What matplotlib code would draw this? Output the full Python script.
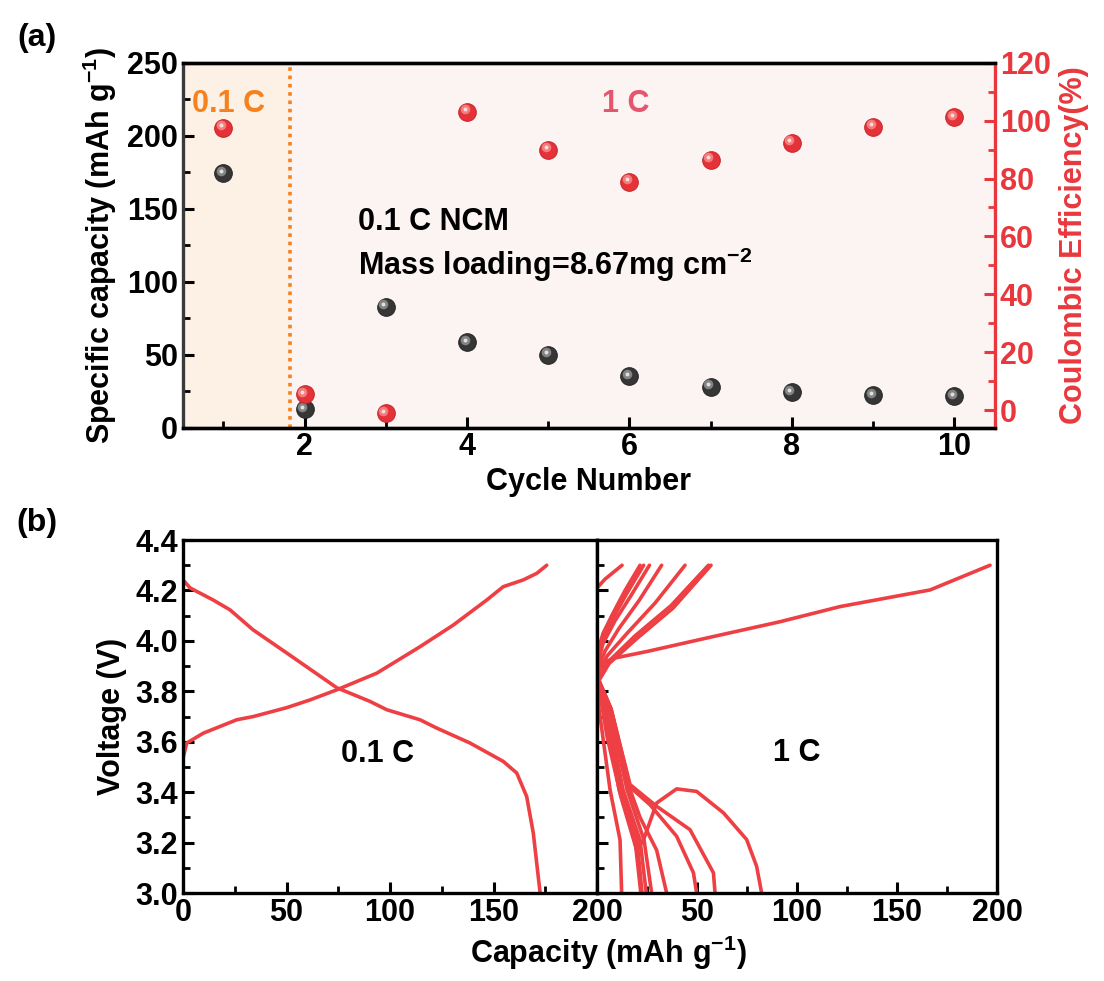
import matplotlib
matplotlib.use("Agg")
import matplotlib.pyplot as plt
from matplotlib.transforms import offset_copy
from matplotlib.ticker import MultipleLocator

plt.rcParams['font.family'] = ['Liberation Sans', 'DejaVu Sans']
plt.rcParams['font.weight'] = 'bold'
plt.rcParams['axes.labelweight'] = 'bold'
plt.rcParams['mathtext.fontset'] = 'custom'
plt.rcParams['mathtext.rm'] = 'Liberation Sans:bold'
plt.rcParams['mathtext.it'] = 'Liberation Sans:bold'
plt.rcParams['mathtext.bf'] = 'Liberation Sans:bold'
plt.rcParams['mathtext.default'] = 'regular'

# ---- (a) cycling data ----
cycles = [1, 2, 3, 4, 5, 6, 7, 8, 9, 10]
capacity = [174.2, 12.5, 82.6, 58.6, 49.7, 35.3, 27.8, 24.3, 22.0, 21.5]
coulombic_eff = [97.5, 5.5, -1.0, 103.1, 90.0, 78.9, 86.5, 92.4, 97.9, 101.2]
rate_switch = 1.82

# ---- (b) voltage profiles, 0.1 C ----
ch01_cap = [0, 1.8, 9.8, 25.9, 34, 50, 61.4, 74.3, 93.6, 114.5, 130.6, 146.7, 154.7, 164.4, 170.9, 175.7]
ch01_v = [3.535, 3.595, 3.634, 3.687, 3.70, 3.735, 3.766, 3.806, 3.872, 3.977, 4.063, 4.162, 4.215, 4.242, 4.268, 4.30]
dis01_cap = [0, 3.4, 14.6, 22.7, 33.8, 50.1, 74.3, 90.3, 98.4, 114.5, 122.6, 138.6, 154.7, 161.2, 166, 169.2, 172.5]
dis01_v = [4.242, 4.21, 4.162, 4.123, 4.044, 3.952, 3.814, 3.76, 3.727, 3.687, 3.654, 3.595, 3.522, 3.476, 3.383, 3.238, 3.0]

# ---- (b) voltage profiles, 1 C ----
charge_1c = [
    ([0, 0.6, 2.5, 8.2, 25, 58, 91.5, 121.5, 166.5, 196.5], [3.84, 3.88, 3.91, 3.931, 3.958, 4.017, 4.076, 4.136, 4.202, 4.30]),
    ([0, 4, 12.5], [4.21, 4.245, 4.30]),
    ([0, 3, 9, 17, 26.2], [3.90, 3.99, 4.08, 4.18, 4.30]),
    ([0, 3, 8, 15, 23.3], [3.92, 4.01, 4.09, 4.19, 4.30]),
    ([0, 3, 8, 14, 21.5], [3.95, 4.03, 4.11, 4.20, 4.30]),
    ([0, 4, 11, 21, 32.3], [3.88, 3.96, 4.05, 4.16, 4.30]),
    ([0, 5, 15, 29, 44], [3.86, 3.94, 4.03, 4.15, 4.30]),
    ([0, 6, 19, 37, 55.7], [3.84, 3.92, 4.02, 4.14, 4.30]),
    ([0, 6, 20, 38, 57], [3.83, 3.91, 4.01, 4.13, 4.30]),
]
discharge_1c = [
    ([0, 1, 6.5, 11.5, 12.3], [3.88, 3.73, 3.41, 3.21, 3.0]),
    ([0, 5, 12, 19.8, 23.2, 29.8, 39.8, 49.8, 63.2, 74.8, 79.8, 82.3],
     [3.86, 3.62, 3.38, 3.17, 3.21, 3.357, 3.413, 3.403, 3.318, 3.212, 3.106, 3.0]),
    ([0, 7, 16.5, 29.8, 46.5, 58.2, 59], [3.86, 3.73, 3.43, 3.344, 3.251, 3.08, 3.0]),
    ([0, 7, 16.5, 26.5, 39.8, 48.2, 49.8], [3.86, 3.73, 3.42, 3.35, 3.225, 3.08, 3.0]),
    ([0, 7, 16.5, 21.5, 29.8, 34.8], [3.86, 3.73, 3.41, 3.30, 3.17, 3.0]),
    ([0, 6, 15, 23.5, 27.3], [3.86, 3.73, 3.41, 3.21, 3.0]),
    ([0, 5, 13, 21.5, 24.6], [3.86, 3.73, 3.41, 3.21, 3.0]),
    ([0, 4.5, 12, 20, 22.5], [3.86, 3.73, 3.41, 3.21, 3.0]),
    ([0, 4, 11, 19, 21.9], [3.86, 3.73, 3.41, 3.21, 3.0]),
]

RED = '#E8383D'
LINE_RED = '#EE4044'
ORANGE = '#F5821F'
FS = 22

fig = plt.figure(figsize=(11.04, 9.81), dpi=100)


def style_ticks(ax, which_sides):
    ax.tick_params(axis='both', which='major', direction='in', length=8, width=2.2, labelsize=FS, **which_sides)
    ax.tick_params(axis='both', which='minor', direction='in', length=5, width=2.0, **which_sides)
    for s in ax.spines.values():
        s.set_linewidth(2.4)


# ---------------- (a) ----------------
ax1 = fig.add_axes([0.1655, 0.5642, 0.7358, 0.3719])
ax1.axvspan(0.5, rate_switch, color='#FDF1E5', zorder=0, lw=0)
ax1.axvspan(rate_switch, 10.5, color='#FCF3F3', zorder=0, lw=0)
ax1.axvline(rate_switch, color=ORANGE, ls=(0, (1, 1.3)), lw=2.6, zorder=1)
ax1.set_xlim(0.5, 10.5)
ax1.set_ylim(0, 250)
ax1.xaxis.set_major_locator(MultipleLocator(2))
ax1.xaxis.set_minor_locator(MultipleLocator(1))
ax1.yaxis.set_major_locator(MultipleLocator(50))
ax1.yaxis.set_minor_locator(MultipleLocator(25))
style_ticks(ax1, dict())
ax1.spines['left'].set_color('#3a3a3a')
ax1.spines['right'].set_visible(False)
ax1.set_xlabel('Cycle Number', fontsize=FS, labelpad=3)
ax1.set_ylabel('Specific capacity (mAh g$^{-1}$)', fontsize=FS, labelpad=6)

ax1r = ax1.twinx()
ax1r.set_ylim(-6, 120)
ax1r.yaxis.set_major_locator(MultipleLocator(20))
ax1r.yaxis.set_minor_locator(MultipleLocator(10))
ax1r.tick_params(axis='y', which='major', direction='in', length=8, width=2.2, labelsize=FS,
                 colors=RED)
ax1r.tick_params(axis='y', which='minor', direction='in', length=5, width=2.0, colors=RED)
for name, s in ax1r.spines.items():
    s.set_linewidth(2.4)
ax1r.spines['right'].set_color(RED)
ax1r.spines['left'].set_visible(False)
ax1r.set_ylabel('Coulombic Efficiency(%)', fontsize=FS, color=RED, labelpad=6)

hl1 = offset_copy(ax1.transData, fig=fig, x=-2.5, y=2.5, units='dots')
hl1r = offset_copy(ax1r.transData, fig=fig, x=-2.5, y=2.5, units='dots')
ax1.scatter(cycles, capacity, s=160, color='#363636', edgecolor='#2a2a2a', lw=0.8, zorder=3, clip_on=False)
ax1.scatter(cycles, capacity, s=48, color='#8c8c8c', lw=0, zorder=4, transform=hl1, alpha=0.9)
ax1.scatter(cycles, capacity, s=8, color='#e0e0e0', lw=0, zorder=5, transform=hl1)
ax1r.scatter(cycles, coulombic_eff, s=160, color='#E53238', edgecolor='#c92a2f', lw=0.8, zorder=3, clip_on=False)
ax1r.scatter(cycles, coulombic_eff, s=48, color='#F58585', lw=0, zorder=4, transform=hl1r, alpha=0.9)
ax1r.scatter(cycles, coulombic_eff, s=8, color='#FDDADA', lw=0, zorder=5, transform=hl1r)

ax1.text(0.62, 222, '0.1 C', color=ORANGE, fontsize=FS, fontweight='bold', va='center', ha='left')
ax1.text(5.95, 222, '1 C', color='#E4566E', fontsize=FS, fontweight='bold', va='center', ha='center')
ax1.text(2.66, 141, '0.1 C NCM', fontsize=FS, fontweight='bold', va='center', ha='left')
ax1.text(2.66, 111.5, 'Mass loading=8.67mg cm$^{-2}$', fontsize=FS, fontweight='bold', va='center', ha='left')

# ---------------- (b) ----------------
ax2 = fig.add_axes([0.1658, 0.0897, 0.3750, 0.3598])
ax3 = fig.add_axes([0.5408, 0.0897, 0.3623, 0.3598])
for ax in (ax2, ax3):
    ax.set_xlim(0, 200)
    ax.set_ylim(3.0, 4.4)
    ax.xaxis.set_major_locator(MultipleLocator(50))
    ax.xaxis.set_minor_locator(MultipleLocator(25))
    ax.yaxis.set_major_locator(MultipleLocator(0.2))
    ax.yaxis.set_minor_locator(MultipleLocator(0.1))
    style_ticks(ax, dict(top=False, right=False))

ax2.yaxis.set_major_formatter(matplotlib.ticker.FormatStrFormatter('%.1f'))
ax3.set_yticklabels([])
ax3.set_xticks([0, 50, 100, 150, 200])
ax3.set_xticklabels(['', '50', '100', '150', '200'])

ax2.plot(ch01_cap, ch01_v, color=LINE_RED, lw=2.6, solid_capstyle='round', solid_joinstyle='round')
ax2.plot(dis01_cap, dis01_v, color=LINE_RED, lw=2.6, solid_capstyle='round', solid_joinstyle='round')
for cap, v in charge_1c + discharge_1c:
    ax3.plot(cap, v, color=LINE_RED, lw=2.6, solid_capstyle='round', solid_joinstyle='round')

ax2.text(94, 3.55, '0.1 C', fontsize=FS, fontweight='bold', ha='center', va='center')
ax3.text(100, 3.555, '1 C', fontsize=FS, fontweight='bold', ha='center', va='center')
ax2.set_ylabel('Voltage (V)', fontsize=FS, labelpad=6)
fig.text(608 / 1104, 1 - 953 / 981, 'Capacity (mAh g$^{-1}$)', fontsize=FS, fontweight='bold',
         ha='center', va='center')

fig.text(37 / 1104, 1 - 38 / 981, '(a)', fontsize=FS + 1, fontweight='bold', ha='center', va='center')
fig.text(37 / 1104, 1 - 523 / 981, '(b)', fontsize=FS + 1, fontweight='bold', ha='center', va='center')

fig.savefig('out.png', dpi=100)
